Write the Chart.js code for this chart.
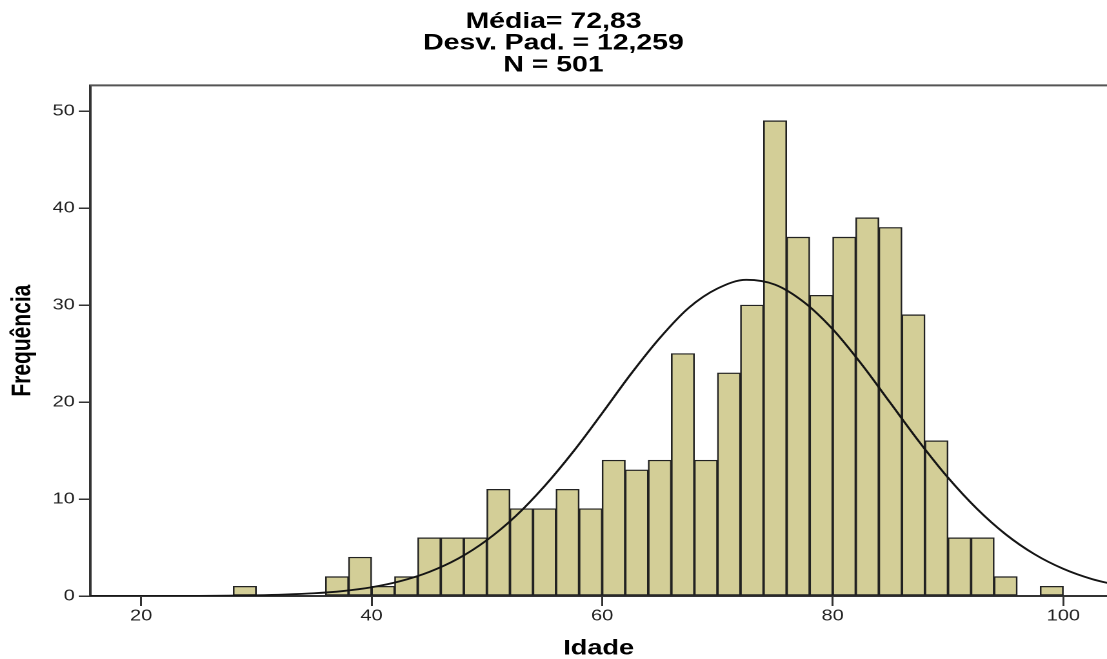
<!DOCTYPE html>
<html>
<head>
<meta charset="utf-8">
<script src="https://cdn.jsdelivr.net/npm/chart.js@4.4.1/dist/chart.umd.min.js"></script>
<style>
  html, body { margin: 0; padding: 0; background: #fff; overflow: hidden; }
  #wrap { width: 858px; height: 659px; transform: scaleX(1.2902); transform-origin: 0 0; }
</style>
</head>
<body>
<div id="wrap"><canvas id="c" width="858" height="659"></canvas></div>
<script>
// Histogram bins (age, start of each 2-year bin) and counts
const binStarts = [28,30,32,34,36,38,40,42,44,46,48,50,52,54,56,58,60,62,64,66,68,70,72,74,76,78,80,82,84,86,88,90,92,94,96,98];
const counts    = [ 1, 0, 0, 0, 2, 4, 1, 2, 6, 6, 6,11, 9, 9,11, 9,14,13,14,25,14,23,30,49,37,31,37,39,38,29,16, 6, 6, 2, 0, 1];
const binWidth = 2;

// Fitted normal curve
const curveX = [15,17.5,20,22.5,25,27.5,30,32.5,35,37.5,40,42.5,45,47.5,50,52.5,55,57.5,60,62.5,65,67.5,70,72.5,75,77.5,80,82.5,85,87.5,90,92.5,95,97.5,100,102.5,105];
const curveY = [0,0.001,0.003,0.007,0.016,0.035,0.073,0.15,0.28,0.51,0.90,1.53,2.48,3.85,5.76,8.24,11.33,14.9,18.85,22.9,26.6,29.7,31.7,32.6,32.1,30.3,27.5,23.9,19.9,15.9,12.2,9.0,6.36,4.31,2.80,1.74,1.04];

const titleLines = ['Média= 72,83', 'Desv. Pad. = 12,259', 'N = 501'];
const xTitle = 'Idade';
const yTitle = 'Frequência';

const barData = binStarts.map((s, i) => ({ x: s + binWidth / 2, y: counts[i] }));
const lineData = curveX.map((x, i) => ({ x: x, y: curveY[i] }));

const frame = {
  id: 'frame',
  afterDatasetsDraw(chart) {
    const { ctx, chartArea: a } = chart;
    ctx.save();
    ctx.strokeStyle = '#555';
    ctx.lineWidth = 2;
    ctx.beginPath();
    ctx.moveTo(a.left, a.top);
    ctx.lineTo(a.right, a.top);
    ctx.stroke();
    ctx.restore();
  }
};

const FONT = "'Liberation Sans', Arial, sans-serif";

new Chart(document.getElementById('c'), {
  type: 'bar',
  data: {
    datasets: [
      {
        type: 'line',
        data: lineData,
        borderColor: '#151515',
        borderWidth: 1.8,
        pointRadius: 0,
        fill: false,
        tension: 0.4,
        cubicInterpolationMode: 'monotone',
        order: 0
      },
      {
        type: 'bar',
        data: barData,
        backgroundColor: '#D3CE97',
        borderColor: '#222',
        borderWidth: 1.3,
        borderSkipped: false,
        barPercentage: 1,
        categoryPercentage: 1,
        order: 1
      }
    ]
  },
  plugins: [frame],
  options: {
    responsive: false,
    devicePixelRatio: 2,
    animation: false,
    layout: { padding: 0 },
    plugins: {
      legend: { display: false },
      tooltip: { enabled: false },
      title: {
        display: true,
        text: titleLines,
        color: '#000',
        font: { family: FONT, size: 22, weight: 'bold', lineHeight: 0.99 },
        padding: { top: 11, bottom: 9 }
      }
    },
    scales: {
      x: {
        type: 'linear',
        min: 15.6,
        max: 103.79,
        offset: false,
        afterFit(scale) { scale.height = 63; },
        ticks: {
          stepSize: 20,
          includeBounds: false,
          color: '#222',
          font: { family: FONT, size: 15.5 },
          padding: 1,
          maxRotation: 0
        },
        grid: { offset: false, drawOnChartArea: false, drawTicks: true, tickLength: 10, color: '#333', lineWidth: 1.5 },
        border: { display: true, color: '#333', width: 2 },
        title: {
          display: true,
          text: xTitle,
          color: '#000',
          font: { family: FONT, size: 21, weight: 'bold', lineHeight: 1.0 },
          padding: 0
        }
      },
      y: {
        type: 'linear',
        min: 0,
        max: 52.65,
        afterFit(scale) { scale.width = 70; },
        ticks: {
          stepSize: 10,
          includeBounds: false,
          color: '#222',
          font: { family: FONT, size: 15.5 },
          padding: 3
        },
        grid: { offset: false, drawOnChartArea: false, drawTicks: true, tickLength: 9, color: '#333', lineWidth: 1.5 },
        border: { display: true, color: '#333', width: 2 },
        title: {
          display: true,
          text: yTitle,
          color: '#000',
          font: { family: FONT, size: 21, weight: 'bold', lineHeight: 1.0 },
          padding: { top: 7, bottom: 0 }
        }
      }
    }
  }
});
</script>
</body>
</html>
